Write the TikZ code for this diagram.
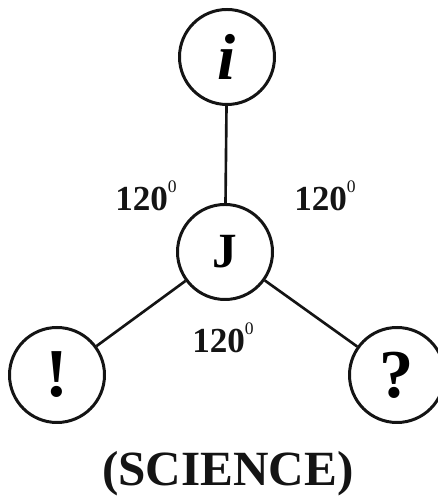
\documentclass[tikz,border=0pt]{standalone}
\usepackage{fontspec}
\setmainfont{Liberation Serif}
\usepackage{tikz}
\usetikzlibrary{positioning}
\definecolor{ink}{RGB}{20,20,20}
\newcommand{\degsup}{\raisebox{1.1ex}{\mdseries\fontsize{10pt}{10pt}\selectfont 0}}
\tikzset{
  bubble/.style={circle,draw=ink,line width=1.7pt,fill=white,minimum size=1.9cm,
    inner sep=0pt,font=\bfseries\fontsize{#1}{#1}\selectfont},
  bubble/.default=26pt,
  spoke/.style={draw=ink,line width=1.5pt},
  angle tag/.style={font=\bfseries\fontsize{20pt}{20pt}\selectfont,text=ink},
}

\begin{document}
\begin{tikzpicture}
    \useasboundingbox (0,0) rectangle (8.76,10);
    \node[bubble=28pt] (core) at (4.50,4.96) {J};
    \node[bubble=37pt] (info) at (4.54,8.86) {\itshape i};
    \node[bubble=39pt] (wow) at (1.14,2.50) {!};
    \node[bubble=39pt] (ask) at (7.94,2.50) {?};
    \foreach \n in {info,wow,ask}
      \draw[spoke] (core) -- (\n);
    \node[angle tag] (a1) at (2.92,6.08) {120\degsup};
    \node[angle tag] (a2) at (6.50,6.08) {120\degsup};
    \node[angle tag] (a3) at (4.46,3.24) {120\degsup};
    \node[font=\bfseries\fontsize{28pt}{28pt}\selectfont,text=ink] (title) at (4.56,0.52) {(SCIENCE)};
  \end{tikzpicture}
\end{document}
